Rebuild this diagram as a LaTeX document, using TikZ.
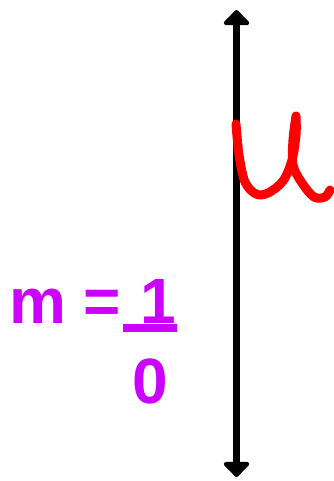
\documentclass[tikz,border=0pt]{standalone}
\usepackage{fontspec}
\setmainfont{Liberation Sans}
\usetikzlibrary{arrows.meta}
\definecolor{slopepurple}{RGB}{204,0,255}
\tikzset{
  axisline/.style={line width=7pt, {Triangle[length=16pt,width=30pt,round]}-{Triangle[length=16pt,width=30pt,round]}},
  slopetext/.style={text=slopepurple, inner sep=0pt, font=\bfseries\fontsize{64}{64}\selectfont}
}

\begin{document}
\begin{tikzpicture}[x=1pt, y=-1pt]
    \useasboundingbox (0,0) rectangle (334,481);

    \coordinate (top) at (236.5,10);
    \coordinate (bottom) at (236.5,477);
    \draw[axisline] (bottom) -- (top);

    \draw[red, line width=9pt, line cap=round, line join=round]
        plot[smooth, tension=0.55] coordinates {(236,124) (239,155) (245,182) (256,194) (268,193) (283,181) (292,160) (296,135) (296,116)}
        plot[smooth, tension=0.55] coordinates {(296,116) (293,140) (293,165) (302,183) (314,197) (325,197) (330,190)};

    \node[slopetext, anchor=base west] (mlabel) at (9,323) {m =};
    \node[slopetext, anchor=base] (num) at (158,323) {1};
    \node[slopetext, anchor=base] (den) at (150,403) {0};
    \draw[slopepurple, line width=8pt] (123,328) -- (177,328);
\end{tikzpicture}
\end{document}
